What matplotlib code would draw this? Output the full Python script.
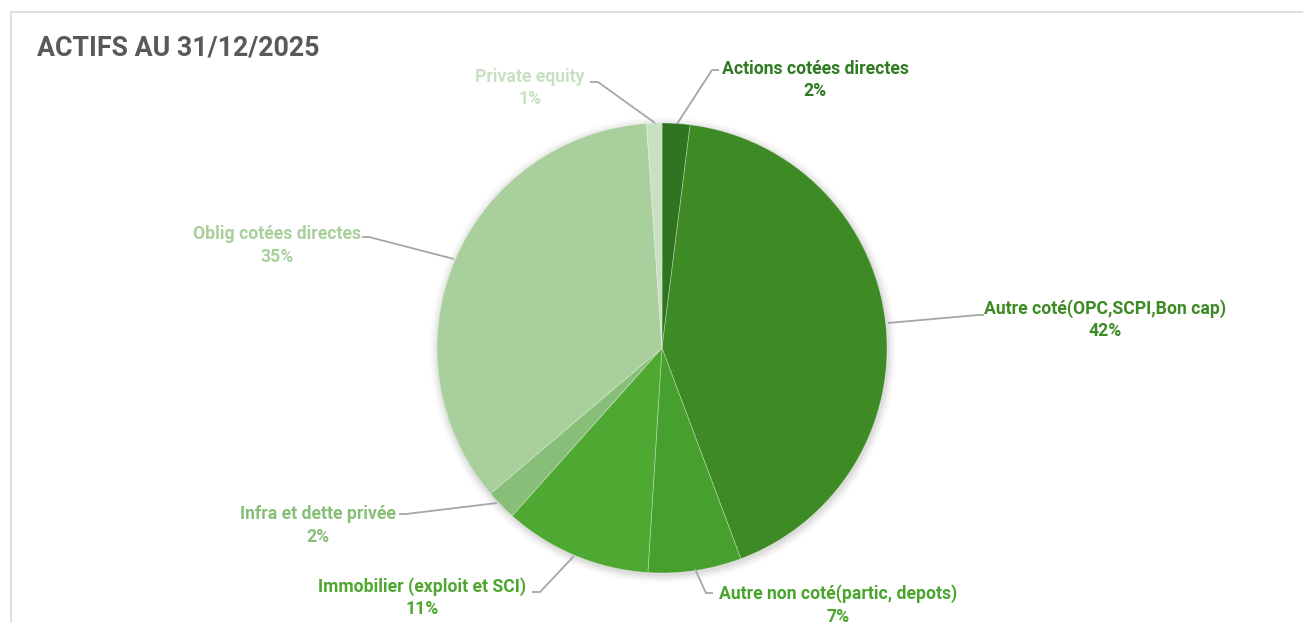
import matplotlib
matplotlib.use("Agg")
import matplotlib.pyplot as plt
from matplotlib.patches import Circle

categories = ["Actions cotées directes", "Autre coté(OPC,SCPI,Bon cap)",
              "Autre non coté(partic, depots)", "Immobilier (exploit et SCI)",
              "Infra et dette privée", "Oblig cotées directes", "Private equity"]
values = [2.0, 42.3, 6.7, 10.6, 2.2, 35.1, 1.1]
pct_labels = ["2%", "42%", "7%", "11%", "2%", "35%", "1%"]
colors = ["#2f7421", "#3e8a24", "#47a02d", "#4ea831", "#88bf78", "#a9cf9d", "#c8e1c2"]
title = "ACTIFS AU 31/12/2025"

W, H = 1303, 623
fig = plt.figure(figsize=(W / 100, H / 100), dpi=100)
fig.patch.set_facecolor("white")
ax = fig.add_axes([0, 0, 1, 1])

cx, cy, R = 662, 348, 225

# soft shadow
for i, a in enumerate([0.035, 0.03, 0.025, 0.02, 0.015, 0.01]):
    ax.add_patch(Circle((cx + 1, cy + 2), R + 1 + i * 1.5, color="black", alpha=a, lw=0, zorder=1))

# y axis is inverted below, so counterclock in data space appears clockwise
wedges, _ = ax.pie(values, colors=colors, startangle=-90, counterclock=True,
                   center=(cx, cy), radius=R, frame=True,
                   wedgeprops=dict(edgecolor=(1, 1, 1, 0.35), linewidth=0.6))
for w in wedges:
    w.set_zorder(2)
ax.set_xlim(0, W)
ax.set_ylim(H, 0)
ax.set_aspect("equal")
ax.axis("off")

# border
ax.plot([11, 11, W + 5], [H + 5, 12, 12], color="#d9d9d9", lw=1.2, zorder=0, clip_on=False)

ax.text(37, 48, title, fontsize=19.3, fontweight="bold", color="#595959",
        family="Roboto", va="center", ha="left")

# label positions: (text center x, first line y), leader line points
label_specs = [
    ((815, 69), [(677, 124), (712, 70), (719, 70)]),
    ((1105, 309), [(888, 323), (978, 315), (984, 315)]),
    ((838, 594), [(695, 569), (706, 593), (713, 593)]),
    ((422, 587), [(574, 556), (540, 592), (532, 592)]),
    ((318, 514), [(497, 503), (406, 514), (399, 514)]),
    ((277, 234), [(454, 259), (369, 237), (362, 237)]),
    ((530, 77), [(655, 123), (598, 82), (590, 82)]),
]
label_colors = ["#2f7a22", "#3e8a24", "#4aa42e", "#4ea72e", "#88bf78", "#a9cf9d", "#c8e1c2"]
for cat, pct, col, (pos, pts) in zip(categories, pct_labels, label_colors, label_specs):
    xs = [p[0] for p in pts]
    ys = [p[1] for p in pts]
    ax.plot(xs, ys, color="#a6a6a6", lw=1.3, zorder=3, solid_capstyle="butt")
    ax.text(pos[0], pos[1], cat, fontsize=12.7, fontweight="bold", color=col,
            family="Roboto", ha="center", va="center")
    ax.text(pos[0], pos[1] + 22.5, pct, fontsize=12.7, fontweight="bold", color=col,
            family="Roboto", ha="center", va="center")

fig.savefig("out.png", dpi=100, facecolor="white")
